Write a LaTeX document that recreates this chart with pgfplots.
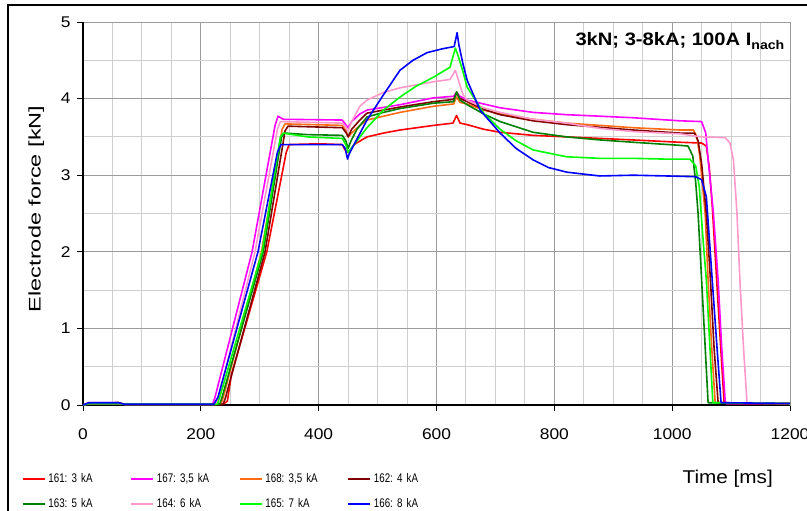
\documentclass[border=0pt]{standalone}
\usepackage{fontspec}
\setmainfont{Liberation Sans}[FakeStretch=1.12]
\newfontfamily\legfont{Liberation Sans}[FakeStretch=0.78]
\usepackage{pgfplots}
\pgfplotsset{compat=1.18}
\frenchspacing
\definecolor{cRed}{HTML}{FF0000}
\definecolor{cMag}{HTML}{FF00FF}
\definecolor{cOra}{HTML}{FF6A13}
\definecolor{cDrd}{HTML}{800000}
\definecolor{cGrn}{HTML}{008000}
\definecolor{cPnk}{HTML}{FF99CC}
\definecolor{cLim}{HTML}{00FF00}
\definecolor{cBlu}{HTML}{0000FF}
\definecolor{gMaj}{HTML}{9C9C9C}
\definecolor{gMin}{HTML}{CFCFCF}
\begin{document}
\begin{tikzpicture}
\useasboundingbox (0,0) rectangle (807bp,511bp);
\draw[black, line width=1.5bp] (8bp,0) -- (8bp,506bp) -- (807bp,506bp);
\begin{axis}[
  at={(83bp,106bp)}, anchor=south west,
  width=707bp, height=383bp, scale only axis,
  xmin=0, xmax=1200, ymin=0, ymax=5,
  xtick={0,200,...,1200}, ytick={0,1,...,5},
  minor x tick num=3, minor y tick num=1,
  grid=both,
  major grid style={color=gMaj, line width=1bp},
  minor grid style={color=gMin, line width=1bp},
  axis line style={color=gMaj, line width=1bp},
  tick pos=left, tick align=outside,
  major tick length=6bp, minor tick length=0bp,
  major tick style={black, line width=1bp},
  /pgf/number format/assume math mode=true,
  /pgf/number format/set thousands separator={},
  ticklabel style={font=\fontsize{15.5bp}{18bp}\selectfont},
  xticklabel style={yshift=-14bp},
  yticklabel style={xshift=-3bp},
  clip=false,
  xlabel={Time [ms]},
  xlabel style={at={(axis description cs:0.912,-0.193)}, anchor=center, font=\fontsize{18.5bp}{22bp}\selectfont},
  ylabel={\scalebox{1.25}[1]{Electrode force [kN]}},
  ylabel style={at={(axis description cs:-0.066,0.512)}, anchor=center, rotate=0, font=\fontsize{16.8bp}{20bp}\selectfont},
  legend columns=4,
  legend cell align=left,
  legend style={draw=none, fill=none, at={(axis description cs:-0.0863,-0.178)}, anchor=north west,
    inner sep=0pt, outer sep=0pt,
    /tikz/every odd column/.style={column sep=0bp},
    /tikz/every even column/.style={column sep=0bp},
    row sep=13bp,
    nodes={inner xsep=3bp, inner ysep=0bp, text width=79bp, text height=9bp, text depth=3bp, align=left,
      font=\legfont\fontsize{12.5bp}{15bp}\selectfont}},
  legend image code/.code={\draw[#1, line width=1.5bp] (0bp,0bp) -- (22bp,0bp);},
  every axis plot/.append style={line width=1.6bp, line join=round},
]
\draw[black, line width=1.5bp] (rel axis cs:0,1) -- (rel axis cs:0,0) -- (rel axis cs:1,0);
% 161: 3 kA
\addplot[cRed] coordinates {(0,0)(10,0.02)(60,0.03)(70,0.01)(238,0.01)(245,0.05)(252,0.4)(312,2.0)(345,3.3)(350,3.40)(400,3.41)(440,3.40)(447,3.30)(452,3.30)(460,3.40)(482,3.50)(510,3.55)(538,3.59)(595,3.65)(628,3.68)(634,3.78)(640,3.68)(652,3.66)(680,3.60)(708,3.56)(764,3.52)(821,3.50)(878,3.48)(934,3.46)(1013,3.43)(1050,3.42)(1058,3.38)(1063,3.1)(1068,2.6)(1075,1.7)(1082,0.8)(1088,0.05)(1092,0.02)(1200,0.02)};
% 167: 3,5 kA
\addplot[cMag] coordinates {(0,0)(10,0.03)(60,0.03)(70,0.01)(220,0.01)(224,0.1)(287,2.0)(326,3.65)(331,3.77)(340,3.73)(440,3.72)(447,3.65)(450,3.62)(456,3.70)(470,3.80)(482,3.85)(538,3.92)(595,4.01)(629,4.03)(634,4.08)(640,4.03)(652,3.98)(680,3.93)(708,3.88)(764,3.82)(821,3.79)(878,3.77)(934,3.75)(1013,3.71)(1050,3.70)(1057,3.55)(1061,3.2)(1065,2.9)(1070,2.5)(1078,1.63)(1084,0.76)(1090,0.05)(1092,0.02)(1200,0.02)};
% 168: 3,5 kA
\addplot[cOra] coordinates {(0,0)(10,0.02)(60,0.02)(70,0.01)(234,0.01)(238,0.1)(303,2.0)(338,3.6)(343,3.67)(440,3.65)(447,3.57)(450,3.50)(456,3.55)(470,3.65)(482,3.72)(538,3.82)(595,3.90)(629,3.93)(634,4.02)(640,3.95)(652,3.93)(680,3.85)(708,3.80)(764,3.73)(821,3.68)(934,3.62)(1013,3.59)(1036,3.59)(1042,3.5)(1047,3.24)(1056,2.5)(1061,1.63)(1067,0.76)(1073,0.03)(1200,0.02)};
% 162: 4 kA
\addplot[cDrd] coordinates {(0,0)(10,0.02)(60,0.03)(70,0.01)(238,0.01)(242,0.1)(309,2.0)(343,3.58)(348,3.64)(440,3.62)(447,3.55)(450,3.50)(456,3.60)(470,3.72)(482,3.81)(538,3.89)(595,3.96)(629,3.99)(634,4.07)(640,4.0)(652,3.96)(680,3.86)(708,3.79)(764,3.71)(821,3.66)(934,3.59)(1013,3.55)(1038,3.55)(1044,3.45)(1050,3.15)(1058,2.5)(1065,1.63)(1071,0.76)(1078,0.03)(1200,0.02)};
% 163: 5 kA
\addplot[cGrn] coordinates {(0,0)(10,0.02)(60,0.02)(70,0.01)(232,0.01)(236,0.1)(306,2.0)(337,3.5)(342,3.55)(380,3.53)(440,3.52)(446,3.45)(450,3.35)(455,3.45)(465,3.60)(482,3.76)(510,3.82)(538,3.87)(595,3.94)(629,3.96)(634,4.09)(640,3.98)(652,3.92)(680,3.80)(708,3.70)(764,3.56)(821,3.50)(878,3.46)(934,3.43)(1013,3.39)(1027,3.38)(1035,3.25)(1040,2.9)(1044,2.5)(1050,1.63)(1056,0.76)(1061,0.03)(1200,0.02)};
% 164: 6 kA
\addplot[cPnk] coordinates {(0,0)(10,0.02)(60,0.02)(70,0.01)(226,0.01)(230,0.1)(292,2.0)(330,3.6)(335,3.70)(440,3.68)(447,3.62)(450,3.58)(456,3.70)(470,3.90)(482,3.98)(510,4.08)(538,4.14)(595,4.22)(623,4.25)(632,4.37)(638,4.22)(645,4.05)(652,3.98)(680,3.88)(708,3.82)(764,3.73)(821,3.68)(878,3.61)(934,3.57)(1013,3.54)(1050,3.50)(1090,3.49)(1098,3.42)(1104,3.2)(1110,2.5)(1115,1.63)(1121,0.76)(1127,0.03)(1200,0.02)};
% 165: 7 kA
\addplot[cLim] coordinates {(0,0)(10,0.02)(60,0.02)(70,0.01)(228,0.01)(232,0.1)(304,2.0)(335,3.5)(340,3.55)(380,3.50)(440,3.48)(446,3.40)(450,3.30)(455,3.35)(465,3.45)(482,3.62)(510,3.85)(538,4.02)(565,4.16)(595,4.28)(623,4.41)(632,4.66)(637,4.55)(645,4.35)(652,4.15)(680,3.81)(708,3.60)(735,3.45)(764,3.33)(821,3.24)(878,3.22)(934,3.22)(990,3.21)(1030,3.21)(1040,3.12)(1046,2.85)(1052,2.2)(1058,1.63)(1064,0.76)(1069,0.03)(1200,0.02)};
% 166: 8 kA
\addplot[cBlu] coordinates {(0,0)(10,0.03)(60,0.03)(70,0.01)(222,0.01)(229,0.1)(297,2.0)(330,3.3)(336,3.40)(440,3.40)(445,3.35)(449,3.21)(452,3.28)(460,3.40)(482,3.72)(510,4.05)(538,4.37)(560,4.50)(584,4.60)(610,4.65)(630,4.68)(635,4.86)(638,4.70)(645,4.45)(652,4.24)(674,3.85)(708,3.55)(735,3.35)(764,3.20)(790,3.10)(821,3.04)(877,2.99)(934,3.00)(991,2.99)(1040,2.98)(1050,2.94)(1058,2.72)(1064,2.07)(1070,1.41)(1076,0.76)(1083,0.03)(1200,0.02)};
\legend{161: 3 kA, 167: 3{,}5 kA, 168: 3{,}5 kA, 162: 4 kA, 163: 5 kA, 164: 6 kA, 165: 7 kA, 166: 8 kA}
\node[anchor=north east, inner sep=0pt, font=\bfseries\fontsize{18bp}{21bp}\selectfont] at (rel axis cs:0.993,0.972) {3kN; 3-8kA; 100A I\textsubscript{nach}};
\end{axis}
\end{tikzpicture}
\end{document}
